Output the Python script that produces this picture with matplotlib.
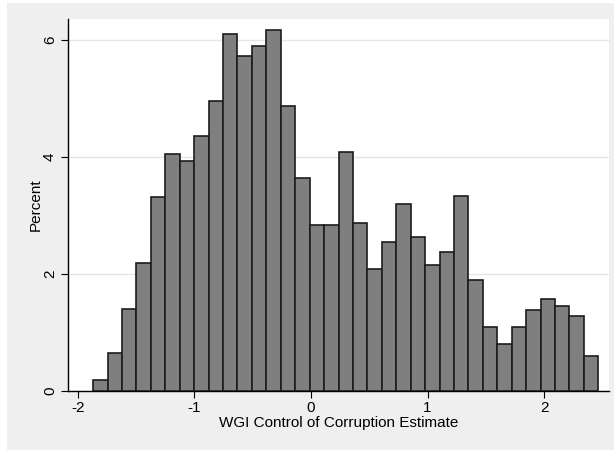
import numpy as np
import matplotlib
matplotlib.use('Agg')
import matplotlib.pyplot as plt
from matplotlib.patches import Rectangle

# histogram of WGI control of corruption, percent per bin
percent = [0.18, 0.65, 1.41, 2.18, 3.31, 4.05, 3.94, 4.36, 4.96, 6.10,
           5.72, 5.89, 6.18, 4.87, 3.65, 2.83, 2.83, 4.08, 2.88, 2.09,
           2.54, 3.20, 2.63, 2.15, 2.37, 3.34, 1.89, 1.09, 0.81, 1.09,
           1.38, 1.58, 1.46, 1.29, 0.59]
x_min = -1.867
x_max = 2.464
x_ticks = [-2, -1, 0, 1, 2]
y_ticks = [0, 2, 4, 6]

plt.rcParams['font.family'] = ['Liberation Sans', 'DejaVu Sans']

W, H = 614, 451
fig = plt.figure(figsize=(W / 100, H / 100), dpi=100)
fig.patch.set_facecolor('white')
# grey outer panel
fig.patches.append(Rectangle((7 / W, 1 - 450 / H), (614 - 7) / W, (450 - 3) / H,
                             transform=fig.transFigure, facecolor='#efefef',
                             edgecolor='none', zorder=-10))

ax = fig.add_axes([68 / W, 1 - 391 / H, (609 - 68) / W, (391 - 19) / H])
ax.set_zorder(1)
ax.set_facecolor('white')

edges = np.linspace(x_min, x_max, len(percent) + 1)
ax.bar(edges[:-1], percent, width=np.diff(edges), align='edge',
       color='#7f7f7f', edgecolor='#1c1c1c', linewidth=1.2, zorder=3)

ax.set_xlim(-2.083, 2.556)
ax.set_ylim(0, 6.36)
ax.set_xticks(x_ticks)
ax.set_xticklabels([str(t) for t in x_ticks])
ax.set_yticks(y_ticks)
ax.set_yticklabels([str(t) for t in y_ticks], rotation=90, va='center')
ax.yaxis.grid(True, color='#e6e6e6', linewidth=1.0, zorder=0)
ax.set_axisbelow(True)

for s in ['top', 'right']:
    ax.spines[s].set_visible(False)
for s in ['left', 'bottom']:
    ax.spines[s].set_color('black')
    ax.spines[s].set_linewidth(1.0)

ax.tick_params(axis='both', direction='out', length=5, width=0.8,
               labelsize=11, colors='black')
ax.tick_params(axis='x', pad=2)
ax.tick_params(axis='y', pad=3)

ax.set_xlabel('WGI Control of Corruption Estimate', fontsize=11, labelpad=1)
ax.set_ylabel('Percent', fontsize=11, labelpad=0)

fig.savefig('out.png', dpi=100, facecolor=fig.get_facecolor())
